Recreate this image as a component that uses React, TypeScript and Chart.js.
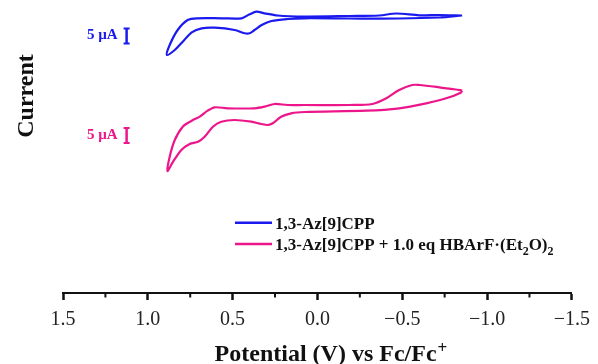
import { useEffect, useRef } from 'react';
import { Chart, registerables } from 'chart.js';

Chart.register(...registerables);

// ---------- data ----------
const seriesLabels = ['1,3-Az[9]CPP', '1,3-Az[9]CPP + 1.0 eq HBArF·(Et₂O)₂'];
const seriesColors = ['#1a1aee', '#ec168a'];

// Potential (V vs Fc/Fc+) and current (µA, curves vertically offset)
const potentialBlue = [
  -0.853, -0.718, -0.6, -0.465, -0.365, -0.188, 0.076, 0.235, 0.312, 0.359, 0.4, 0.447,
  0.565, 0.706, 0.765, 0.824, 0.871, 0.888,
  0.841, 0.794, 0.741, 0.682, 0.606, 0.488, 0.429, 0.4, 0.371, 0.329, 0.271, 0.176,
  0.076, -0.188, -0.482, -0.718, -0.853,
];
const currentBlue = [
  -3.5, -3.33, -3.43, -2.83, -3.5, -3.67, -3.83, -3.5, -2.77, -2.23, -3.1, -4.43,
  -4.43, -4.43, -5.0, -8.33, -13.33, -16.67,
  -15.0, -12.23, -9.1, -7.77, -7.57, -8.33, -9.43, -9.43, -8.33, -6.67, -5.33, -4.67,
  -4.43, -4.5, -4.5, -4.17, -3.5,
];
const potentialPink = [
  -0.853, -0.816, -0.718, -0.6, -0.559, -0.482, -0.406, -0.324, -0.188, 0.076, 0.176, 0.253,
  0.312, 0.371, 0.529, 0.606, 0.647, 0.694, 0.741, 0.794, 0.841, 0.871, 0.884,
  0.851, 0.802, 0.753, 0.704, 0.665, 0.616, 0.567, 0.488, 0.39, 0.331, 0.292, 0.263,
  0.214, 0.155, 0.076, -0.288, -0.482, -0.641, -0.759, -0.845, -0.853,
];
const currentPink = [
  -28.5, -28.17, -27.43, -26.67, -26.67, -28.33, -31.1, -33.0, -33.33, -33.33, -33.33, -33.0,
  -33.9, -34.43, -34.43, -34.1, -35.23, -37.23, -38.57, -40.57, -45.0, -50.57, -55.33,
  -52.23, -48.33, -46.33, -45.57, -43.9, -40.57, -38.9, -38.33, -38.9, -39.67, -40.0, -39.43,
  -37.23, -36.1, -35.67, -35.23, -34.43, -32.77, -31.1, -29.23, -28.5,
];

const majorTicks = [1.5, 1.0, 0.5, 0.0, -0.5, -1.0, -1.5];
const minorTicks = [1.25, 0.75, 0.25, -0.25, -0.75, -1.25];

const scaleBarSize = 5; // µA
const scaleBarLabel = '5 µA';
const scaleBarPotential = 1.125;
const scaleBarBase = [-12.8, -46.0];

const xTitle = 'Potential (V) vs Fc/Fc';
const xTitleSup = '+';
const yTitle = 'Current';

// ---------- helpers ----------
const SERIF = '"Liberation Serif", "Times New Roman", serif';

function fmtTick(v: number): string {
  const s = Math.abs(v).toFixed(1);
  return v < 0 ? '\u2212' + s : s;
}

function drawRich(ctx: CanvasRenderingContext2D, text: string, x: number, y: number, size: number) {
  // y is the baseline; '₂' is drawn as a subscript
  let cx = x;
  let buf = '';
  const flush = () => {
    if (!buf) return;
    ctx.font = `bold ${size}px ${SERIF}`;
    ctx.fillText(buf, cx, y);
    cx += ctx.measureText(buf).width;
    buf = '';
  };
  for (const ch of text) {
    if (ch === '₂') {
      flush();
      const s = Math.round(size * 0.68);
      ctx.font = `bold ${s}px ${SERIF}`;
      ctx.fillText('2', cx, y + size * 0.28);
      cx += ctx.measureText('2').width;
    } else {
      buf += ch;
    }
  }
  flush();
}

const overlayPlugin = {
  id: 'overlay',
  afterDraw(chart: any) {
    const { ctx, chartArea, scales } = chart;
    const xs = scales.x;
    const ys = scales.y;
    ctx.save();

    // minor ticks
    ctx.strokeStyle = '#111';
    ctx.lineWidth = 2;
    minorTicks.forEach((v) => {
      const px = xs.getPixelForValue(v);
      ctx.beginPath();
      ctx.moveTo(px, chartArea.bottom);
      ctx.lineTo(px, chartArea.bottom + 4.5);
      ctx.stroke();
    });

    // scale bars
    scaleBarBase.forEach((base, i) => {
      const px = xs.getPixelForValue(scaleBarPotential);
      const y0 = ys.getPixelForValue(base);
      const y1 = ys.getPixelForValue(base + scaleBarSize);
      ctx.strokeStyle = seriesColors[i];
      ctx.lineWidth = 2.5;
      ctx.beginPath();
      ctx.moveTo(px, y0);
      ctx.lineTo(px, y1);
      ctx.stroke();
      ctx.lineWidth = 2;
      ctx.beginPath();
      ctx.moveTo(px - 3, y0);
      ctx.lineTo(px + 3, y0);
      ctx.moveTo(px - 3, y1);
      ctx.lineTo(px + 3, y1);
      ctx.stroke();
      ctx.fillStyle = seriesColors[i];
      ctx.font = `bold 15px ${SERIF}`;
      ctx.textAlign = 'right';
      ctx.textBaseline = 'alphabetic';
      ctx.fillText(scaleBarLabel, px - 9, (y0 + y1) / 2 + 3);
    });

    // legend
    const lx0 = 235;
    const lx1 = 272;
    const rows = [222.7, 244];
    chart.data.datasets.forEach((ds: any, i: number) => {
      const yy = rows[i];
      ctx.strokeStyle = ds.borderColor;
      ctx.lineWidth = 2.6;
      ctx.beginPath();
      ctx.moveTo(lx0, yy);
      ctx.lineTo(lx1, yy);
      ctx.stroke();
      ctx.fillStyle = '#111';
      ctx.textAlign = 'left';
      ctx.textBaseline = 'alphabetic';
      drawRich(ctx, ds.label, lx1 + 3, yy + 6, 17);
    });

    // y title
    ctx.save();
    ctx.translate(33, 96);
    ctx.rotate(-Math.PI / 2);
    ctx.fillStyle = '#111';
    ctx.font = `bold 24px ${SERIF}`;
    ctx.textAlign = 'center';
    ctx.textBaseline = 'alphabetic';
    ctx.fillText(yTitle, 0, 0);
    ctx.restore();

    // x title
    ctx.fillStyle = '#111';
    ctx.textAlign = 'left';
    ctx.textBaseline = 'alphabetic';
    ctx.font = `bold 24px ${SERIF}`;
    const w = ctx.measureText(xTitle).width;
    ctx.font = `bold 17px ${SERIF}`;
    const ws = ctx.measureText(xTitleSup).width;
    const cx = (chartArea.left + chartArea.right) / 2 + 13;
    const sx = cx - (w + ws) / 2;
    ctx.font = `bold 24px ${SERIF}`;
    ctx.fillText(xTitle, sx, 361);
    ctx.font = `bold 17px ${SERIF}`;
    ctx.fillText(xTitleSup, sx + w + 1, 353);

    ctx.restore();
  },
};

export default function App() {
  const ref = useRef<HTMLCanvasElement | null>(null);

  useEffect(() => {
    if (!ref.current) return;
    const chart = new Chart(ref.current, {
      type: 'scatter',
      data: {
        datasets: [
          {
            label: seriesLabels[0],
            data: potentialBlue.map((v, i) => ({ x: v, y: currentBlue[i] })),
            borderColor: seriesColors[0],
            backgroundColor: seriesColors[0],
            showLine: true,
            pointRadius: 0,
            borderWidth: 2.2,
            tension: 0.3,
            fill: false,
          },
          {
            label: seriesLabels[1],
            data: potentialPink.map((v, i) => ({ x: v, y: currentPink[i] })),
            borderColor: seriesColors[1],
            backgroundColor: seriesColors[1],
            showLine: true,
            pointRadius: 0,
            borderWidth: 2.2,
            tension: 0.3,
            fill: false,
          },
        ],
      },
      options: {
        animation: false,
        responsive: false,
        maintainAspectRatio: false,
        layout: { padding: { left: 63, right: 25, top: 5, bottom: 24 } },
        plugins: {
          legend: { display: false },
          tooltip: { enabled: false },
          title: { display: false },
        },
        scales: {
          x: {
            type: 'linear',
            min: -1.5,
            max: 1.5,
            reverse: true,
            afterBuildTicks: (axis: any) => {
              axis.ticks = majorTicks.map((value) => ({ value }));
            },
            ticks: {
              callback: (v: any) => fmtTick(Number(v)),
              font: { family: SERIF, size: 20 },
              color: '#222',
              padding: 8,
              maxRotation: 0,
              autoSkip: false,
            },
            grid: {
              drawOnChartArea: false,
              drawTicks: true,
              tickLength: 7,
              tickWidth: 2.5,
              tickColor: '#111',
            },
            border: { display: true, color: '#111', width: 2 },
          },
          y: {
            type: 'linear',
            display: false,
            min: -96,
            max: 0,
          },
        },
      },
      plugins: [overlayPlugin],
    } as any);
    return () => chart.destroy();
  }, []);

  return (
    <div style={{ position: 'absolute', left: 0, top: 0, width: 598, height: 364, background: '#fff' }}>
      <canvas ref={ref} width={598} height={364} style={{ display: 'block' }} />
    </div>
  );
}
